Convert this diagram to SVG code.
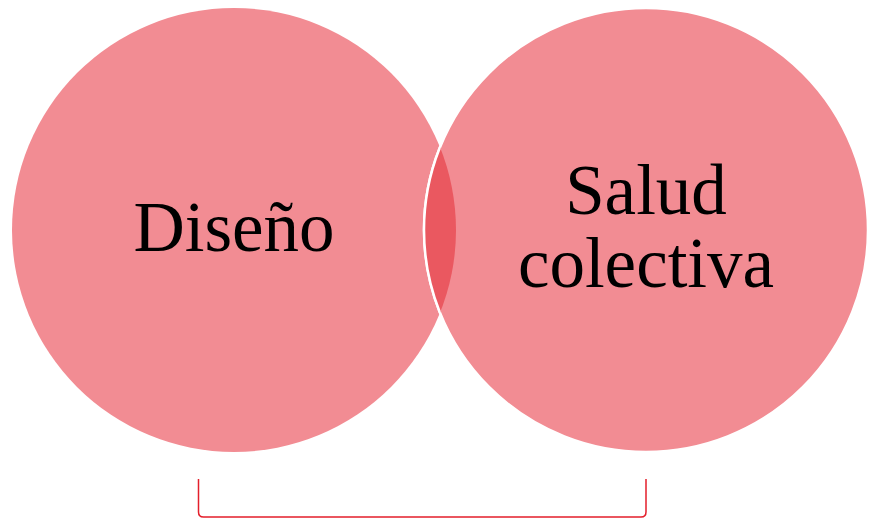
<svg xmlns="http://www.w3.org/2000/svg" width="871" height="520" viewBox="0 0 871 520">
<style>
.c{fill:#f28c93}
.t{font-family:"Liberation Serif","Times New Roman",serif;font-size:71px;fill:#000;text-anchor:middle}
</style>
<rect width="871" height="520" fill="#fff"/>
<g id="diseno">
<circle class="c" cx="234" cy="230" r="222"/>
<text class="t" x="234" y="251">Diseño</text>
</g>
<g id="salud">
<circle class="c" cx="646" cy="230" r="222" stroke="#fff" stroke-width="2.5"/>
<text class="t" x="646" y="214">Salud</text>
<text class="t" x="646" y="287">colectiva</text>
</g>
<g id="overlap">
<clipPath id="cl"><circle cx="234" cy="230" r="222"/></clipPath>
<circle cx="646" cy="230" r="222" fill="#ea5860" clip-path="url(#cl)"/>
<circle cx="646" cy="230" r="222" fill="none" stroke="#fff" stroke-width="2.5" clip-path="url(#cl)"/>
</g>
<g id="connectors">
<path d="M198.5,479 V512 Q198.5,517 203.5,517 H641 Q646,517 646,512 V479" fill="none" stroke="#e41f2b" stroke-width="1.5"/>
</g>
</svg>
